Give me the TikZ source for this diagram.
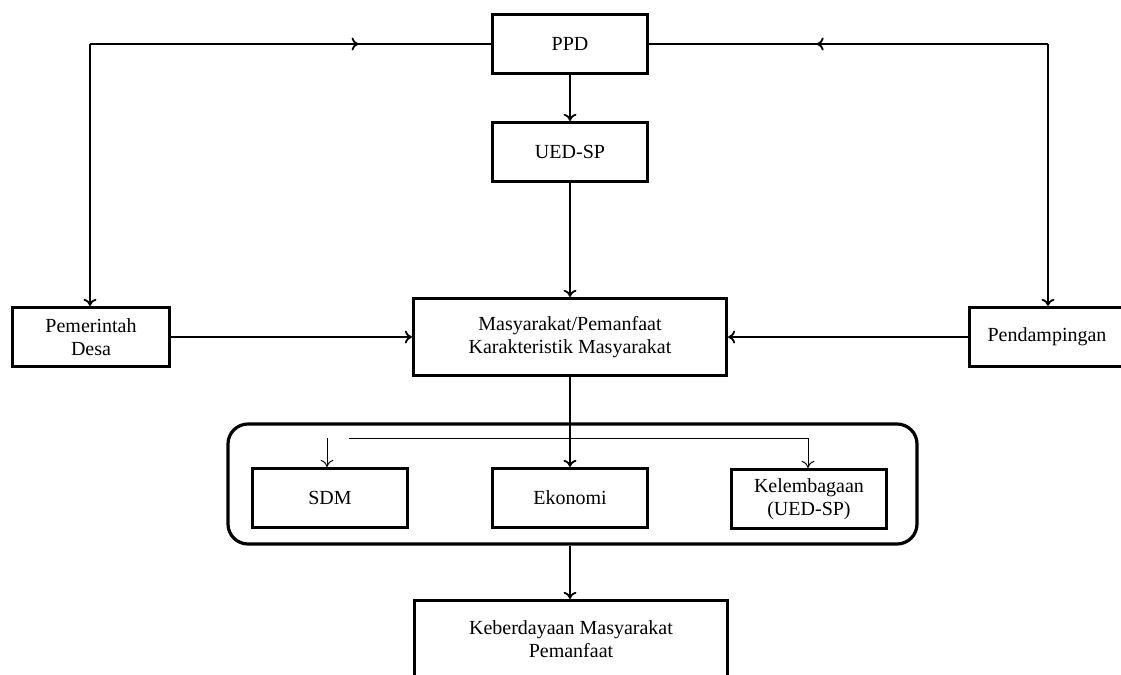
\documentclass[tikz,border=0pt]{standalone}
\usepackage{fontspec}
\setmainfont{Liberation Serif}
\usetikzlibrary{arrows.meta,decorations.markings}

\begin{document}
\begin{tikzpicture}[x=0.5pt,y=-0.5pt,>={To[length=3.5pt,width=6.5pt]},
  kotak/.style={draw,line width=1.6pt,minimum width=77.5pt,minimum height=29.5pt,align=center,inner sep=0pt,font=\fontsize{10}{11.5}\selectfont},
  lebar/.style={kotak,minimum width=156.5pt,minimum height=38.5pt},
  garis/.style={line width=0.9pt,->},
  tipis/.style={line width=0.5pt,->},
  tengah/.style={line width=0.9pt,postaction={decorate},decoration={markings,mark=at position #1 with {\arrow{>}}}}]
\clip (0,0) rectangle (1121,675);
\node[kotak] (ppd) at (570,44) {PPD};
\node[kotak] (ued) at (570,152) {UED-SP};
\node[lebar] (masy) at (570,337) {Masyarakat/Pemanfaat\\Karakteristik Masyarakat};
\node[kotak,minimum width=78.5pt] (pemdes) at (91,337) {Pemerintah\\Desa};
\node[kotak] (pend) at (1047,337) {Pendampingan};
\node[draw,line width=1.6pt,rounded corners=10pt,minimum width=344.5pt,minimum height=60pt] (dimensi) at (572.5,484) {};
\node[kotak] (sdm) at (330,498) {SDM};
\node[kotak] (eko) at (570,498) {Ekonomi};
\node[kotak] (lemb) at (809,499) {Kelembagaan\\(UED-SP)};
\node[lebar] (keber) at (571,639) {Keberdayaan Masyarakat\\Pemanfaat};

\coordinate (kiri) at (90,44);
\coordinate (kanan) at (1048,44);
\coordinate (cabkiri) at (349,438);
\coordinate (cabkanan) at (808,438);
\coordinate (panahsdm) at (327,438);

\draw[tengah=0.67] (kiri) -- (ppd.west);
\draw[tengah=0.58] (kanan) -- (ppd.east);
\draw[garis] (kiri) -- (kiri |- pemdes.north);
\draw[garis] (kanan) -- (kanan |- pend.north);
\draw[garis] (ppd) -- (ued);
\draw[garis] (ued) -- (masy);
\draw[garis] (pemdes) -- (masy);
\draw[garis] (pend) -- (masy);
\draw[garis] (masy) -- (eko);
\draw[line width=0.5pt] (cabkiri) -- (cabkanan);
\draw[tipis] (cabkanan) -- (cabkanan |- lemb.north);
\draw[tipis] (panahsdm) -- (panahsdm |- sdm.north);
\draw[garis] (eko |- dimensi.south) -- (eko |- keber.north);
\end{tikzpicture}
\end{document}
